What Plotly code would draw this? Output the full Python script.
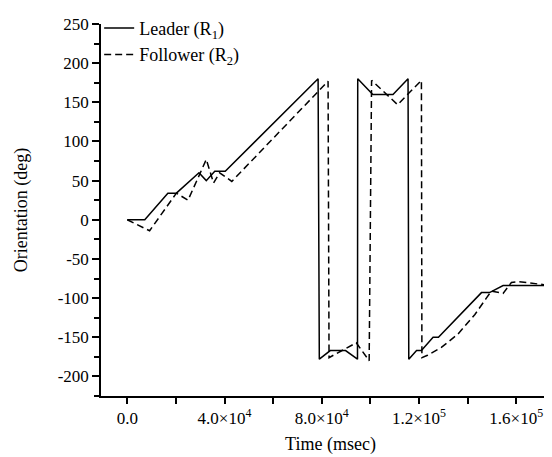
import plotly.graph_objects as go

# leader robot (R1) orientation
leader_t = [0, 7200, 16700, 20200, 29500, 32500, 36000, 40300, 78500, 79000,
            83500, 89800, 94700, 94800, 101000, 109300, 115500, 115800, 119000,
            121000, 125800, 128000, 145700, 149000, 154600, 171800]
leader_deg = [0, 0, 34, 34, 60, 50, 62, 62, 180, -178,
              -167, -167, -178, 180, 160, 160, 180, -178, -167,
              -167, -150, -150, -93, -93, -84, -84]

# follower robot (R2)
follower_t = [0, 9200, 20200, 25000, 32500, 35500, 38000, 43000, 82600, 83000,
              94200, 99500, 100500, 111200, 121000, 121200, 123500, 129200,
              136000, 143000, 147700, 149800, 154600, 158000, 161000, 171800]
follower_deg = [0, -14, 34, 25, 77, 47, 60, 49, 177, -176,
                -157, -180, 178, 147, 178, -176, -173, -163,
                -146, -121, -100, -91, -94, -80, -79, -83]

x_ticks = [0, 40000, 80000, 120000, 160000]
x_labels = ["0.0", "4.0×10<sup>4</sup>", "8.0×10<sup>4</sup>",
            "1.2×10<sup>5</sup>", "1.6×10<sup>5</sup>"]
y_ticks = [-200, -150, -100, -50, 0, 50, 100, 150, 200, 250]
y_labels = [str(v) for v in y_ticks]

font = "Liberation Serif, Times New Roman, serif"

fig = go.Figure()
fig.add_trace(go.Scatter(x=leader_t, y=leader_deg, mode="lines",
                         name="Leader (R<sub>1</sub>)",
                         line=dict(color="black", width=1.5)))
fig.add_trace(go.Scatter(x=follower_t, y=follower_deg, mode="lines",
                         name="Follower (R<sub>2</sub>)",
                         line=dict(color="black", width=1.5, dash="7px,4px")))

fig.update_layout(
    width=552, height=457,
    # keep the plot box fixed; the legend sits above its top edge
    margin=dict(l=93, r=0, t=16, b=69, autoexpand=False),
    plot_bgcolor="white", paper_bgcolor="white",
    font=dict(family=font, size=17, color="black"),
    legend=dict(x=-0.004, y=1.038, xanchor="left", yanchor="top",
                bgcolor="rgba(0,0,0,0)", font=dict(size=18),
                tracegroupgap=0, itemwidth=30),
    showlegend=True,
)

fig.update_xaxes(
    range=[-10800, 178000], showgrid=False, zeroline=False,
    showline=True, linecolor="black", linewidth=1.5,
    tickmode="array", tickvals=x_ticks, ticktext=x_labels,
    ticks="outside", ticklen=6, tickwidth=1.5, tickcolor="black",
    minor=dict(tickmode="linear", tick0=0, dtick=20000, ticks="outside",
               ticklen=6, tickwidth=1.5, tickcolor="black"),
    tickfont=dict(size=17),
    title=dict(text="Time (msec)", font=dict(size=18), standoff=10),
)
fig.update_yaxes(
    range=[-225, 250], showgrid=False, zeroline=False,
    showline=True, linecolor="black", linewidth=1.5,
    tickmode="array", tickvals=y_ticks, ticktext=y_labels,
    ticks="outside", ticklen=7, tickwidth=1.5, tickcolor="black",
    minor=dict(tickmode="linear", tick0=0, dtick=25, ticks="outside",
               ticklen=5, tickwidth=1.5, tickcolor="black"),
    tickfont=dict(size=17),
    title=dict(text="Orientation (deg)", font=dict(size=18), standoff=25),
)

fig.write_html("out.html")
